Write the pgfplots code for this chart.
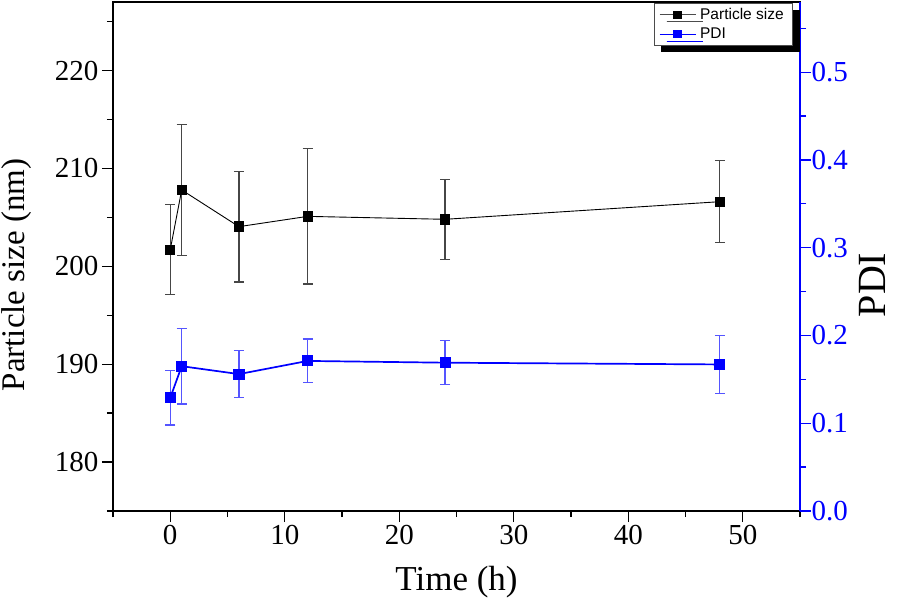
\documentclass[border=0pt]{standalone}
\usepackage{fontspec}
\setmainfont{Liberation Serif}
\newfontfamily\legendfont{Liberation Sans}
\usepackage{pgfplots}
\usepackage{pgfplotstable}
\pgfplotsset{compat=1.18}
\usetikzlibrary{shadows}

\definecolor{pdiblue}{RGB}{0,0,255}
\definecolor{errgray}{RGB}{70,70,70}
\definecolor{errblue}{RGB}{85,85,255}

% time (h), mean, error
\pgfplotstableread{
t size err
0 201.7 4.6
1 207.8 6.7
6 204.05 5.65
12 205.1 6.9
24 204.8 4.1
48 206.6 4.2
}\sizedata
\pgfplotstableread{
t pdi err
0 0.129 0.031
1 0.165 0.043
6 0.156 0.027
12 0.171 0.025
24 0.169 0.025
48 0.167 0.033
}\pdidata

\pgfplotsset{
  common/.style={
    width=687pt, height=509pt, scale only axis,
    xmin=-5, xmax=55,
    tick align=outside,
    major tick length=11pt, minor tick length=6pt,
    /pgf/number format/assume math mode=true,
    tick label style={font=\fontsize{29}{34}\selectfont},
  },
}

\begin{document}
\begin{tikzpicture}
\begin{axis}[common,
  ymin=175, ymax=227,
  xtick={0,10,...,50}, minor xtick={-5,5,...,55},
  ytick={180,190,...,220}, minor ytick={175,185,...,225},
  xtick pos=bottom, ytick pos=left,
  axis line style={line width=1.5pt},
  every tick/.style={line width=1.3pt, black},
  xlabel={Time (h)},
  ylabel={Particle size (nm)},
  xlabel style={font=\fontsize{35}{40}\selectfont, at={(axis description cs:0.5,-0.1395)}, anchor=center},
  ylabel style={font=\fontsize{33}{38}\selectfont, at={(axis description cs:-0.1397,0.464)}, anchor=center},
]
\addplot[black, line width=0.9pt, mark=square*, mark size=4.7pt,
  mark options={solid, fill=black},
  error bars/.cd, y dir=both, y explicit,
  error bar style={line width=1.2pt, errgray},
  error mark options={rotate=90, mark size=5pt, line width=1.2pt, errgray}]
  table[x=t, y=size, y error=err] {\sizedata};
\end{axis}

\begin{axis}[common,
  ymin=0, ymax=0.58,
  axis x line=none,
  axis y line*=right,
  ytick={0,0.1,...,0.5}, minor ytick={0.05,0.15,...,0.55},
  y axis line style={pdiblue, line width=1.5pt},
  every tick/.style={line width=1.3pt, pdiblue},
  yticklabel style={pdiblue, xshift=-3pt, /pgf/number format/.cd, fixed, fixed zerofill, precision=1},
  ylabel={PDI},
  ylabel style={font=\fontsize{40}{46}\selectfont, at={(axis description cs:1.1048,0.444)}, anchor=center},
  legend style={at={(axis description cs:0.9898,0.998)}, anchor=north east,
    draw=black!70, line width=0.6pt, fill=white,
    font=\legendfont\fontsize{15.5}{18}\selectfont,
    inner xsep=5pt, inner ysep=4pt, row sep=5pt,
    nodes={inner ysep=1pt, inner xsep=4pt},
    drop shadow={shadow xshift=7pt, shadow yshift=-7pt, fill=black, opacity=1}},
  legend cell align=left,
  legend image code/.code={
    \draw[mark indices={2}, #1] plot coordinates {(0pt,0pt) (18pt,0pt) (36pt,0pt)};},
]
\addlegendimage{black!70, line width=0.9pt, mark=square*, mark size=3.6pt, mark options={solid, fill=black, draw=black}}
\addlegendentry{Particle size}
\addlegendimage{pdiblue, line width=1.2pt, mark=square*, mark size=3.6pt, mark options={solid, fill=pdiblue}}
\addlegendentry{PDI}
\addplot[forget plot, pdiblue, line width=1.7pt, mark=square*, mark size=4.7pt,
  mark options={solid, fill=pdiblue},
  error bars/.cd, y dir=both, y explicit,
  error bar style={line width=1.2pt, errblue},
  error mark options={rotate=90, mark size=5pt, line width=1.2pt, errblue}]
  table[x=t, y=pdi, y error=err] {\pdidata};
\coordinate (bl) at (rel axis cs:0,0);
\coordinate (tr) at (rel axis cs:1,1);
\end{axis}
\pgfresetboundingbox
\path[use as bounding box] ([xshift=-113pt,yshift=-94pt]bl) rectangle ([xshift=98pt,yshift=2pt]tr);
\end{tikzpicture}
\end{document}
